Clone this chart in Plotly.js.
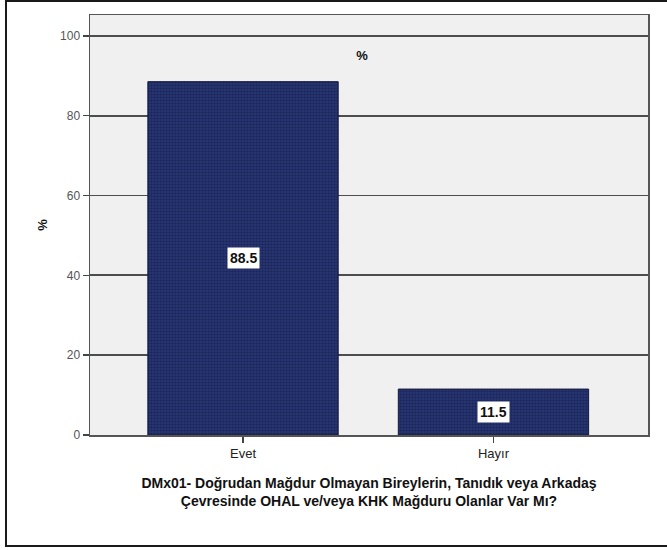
<!DOCTYPE html>
<html>
<head>
<meta charset="utf-8">
<script src="https://cdn.plot.ly/plotly-3.0.1.min.js"></script>
<style>
  html, body { margin: 0; padding: 0; background: #ffffff; }
  #wrap { position: relative; width: 667px; height: 550px; }
  #chart { position: absolute; left: 0; top: 0; width: 667px; height: 550px; }
  #frame { position: absolute; left: 5px; top: 0px; width: 662px; height: 547px;
           border-left: 2px solid #1a1a1a; border-top: 2px solid #1a1a1a; border-bottom: 2px solid #1a1a1a;
           box-sizing: border-box; pointer-events: none; }
</style>
</head>
<body>
<div id="wrap">
  <div id="chart"></div>
  <div id="frame"></div>
</div>
<script>
const categories = ["Evet", "Hayır"];
const percentValues = [88.5, 11.5];
const valueLabels = ["88.5", "11.5"];
const yTickValues = [0, 20, 40, 60, 80, 100];
const yTickLabels = ["0", "20", "40", "60", "80", "100"];
const chartTitle = "%";
const yAxisTitle = "%";
const xAxisTitle = "DMx01- Doğrudan Mağdur Olmayan Bireylerin, Tanıdık veya Arkadaş<br>Çevresinde OHAL ve/veya KHK Mağduru Olanlar Var Mı?";

const font = "Liberation Sans, Arial, sans-serif";

const trace = {
  type: "bar",
  x: categories,
  y: percentValues,
  width: 0.76,
  marker: {
    color: "#2a3978",
    line: { color: "#15193a", width: 1 },
    pattern: { shape: ".", fgcolor: "#0c133d", size: 3, solidity: 0.55, fillmode: "overlay" }
  },
  hoverinfo: "x+y",
  showlegend: false
};

const annotations = categories.map((c, i) => ({
  x: c,
  y: percentValues[i] / 2,
  xref: "x",
  yref: "y",
  text: "<b>" + valueLabels[i] + "</b>",
  showarrow: false,
  bgcolor: "#ffffff",
  borderpad: 2,
  font: { family: font, size: 14, color: "#111111" }
}));

const layout = {
  width: 667,
  height: 550,
  margin: { l: 90, r: 19, t: 15, b: 115 },
  paper_bgcolor: "#ffffff",
  plot_bgcolor: "#f0f0f0",
  font: { family: font, color: "#222222" },
  title: {
    text: "<b>" + chartTitle + "</b>",
    font: { family: font, size: 13, color: "#111111" },
    xref: "paper", x: 0.4875, xanchor: "center",
    yref: "container", y: 0.9, yanchor: "middle"
  },
  xaxis: {
    type: "category",
    range: [-0.611, 1.617],
    showgrid: false,
    zeroline: false,
    showline: true,
    linecolor: "#555555",
    linewidth: 1.5,
    mirror: true,
    ticks: "outside",
    ticklen: 6,
    tickcolor: "#444444",
    tickwidth: 1.5,
    tickfont: { family: font, size: 13, color: "#222222" },
    title: {
      text: "<b>" + xAxisTitle + "</b>",
      font: { family: font, size: 14, color: "#111111" },
      standoff: 18
    },
    automargin: false,
    fixedrange: true
  },
  yaxis: {
    range: [0, 105.2],
    tickvals: yTickValues,
    ticktext: yTickLabels,
    showgrid: true,
    gridcolor: "#4d4d4d",
    gridwidth: 1.8,
    zeroline: false,
    showline: true,
    linecolor: "#555555",
    linewidth: 1.5,
    mirror: true,
    ticks: "outside",
    ticklen: 6,
    tickcolor: "#444444",
    tickwidth: 1.5,
    tickfont: { family: font, size: 12, color: "#555555" },
    title: {
      text: "<b>" + yAxisTitle + "</b>",
      font: { family: font, size: 13, color: "#111111" },
      standoff: 9
    },
    automargin: false,
    fixedrange: true
  },
  annotations: annotations
};

Plotly.newPlot("chart", [trace], layout, { displayModeBar: false, staticPlot: true });
</script>
</body>
</html>
